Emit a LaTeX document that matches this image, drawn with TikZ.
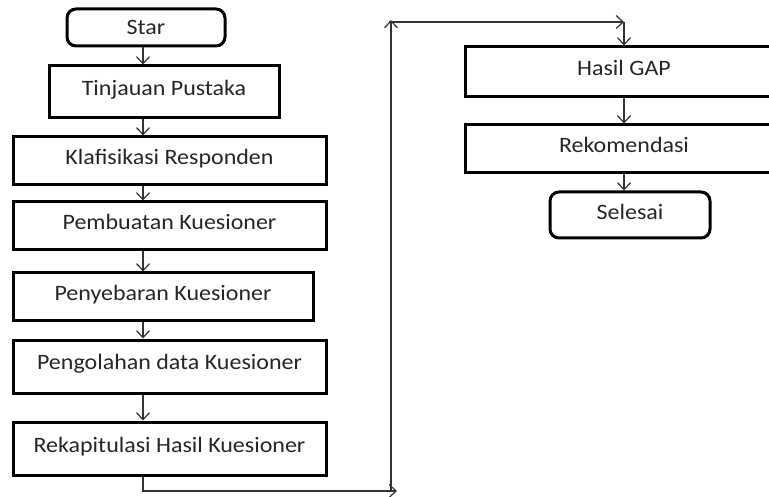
\documentclass[tikz,border=0pt]{standalone}
\usepackage{fontspec}
\setmainfont{Carlito}[FakeStretch=1.09]
\usepackage{tikz}
\usetikzlibrary{arrows.meta}

\begin{document}
\begin{tikzpicture}[x=1pt, y=1pt, >={Straight Barb[length=7pt, width=13pt, line width=1.2pt]},
    box/.style={draw, line width=3pt, inner sep=0pt, text height=15pt, text depth=8pt,
        font=\fontsize{22}{26}\selectfont, text=black!85},
    roundbox/.style={box, rounded corners=9pt},
    flow/.style={->, line width=1.2pt, black!80}]
    \useasboundingbox (0,0) rectangle (769,-497);

    % Left column
    \node (star) at (146,-27.5) [roundbox, text depth=1pt, minimum width=158pt, minimum height=37pt] {Star};
    \node (tinjau) at (164,-92) [box, minimum width=230pt, minimum height=52pt] {Tinjauan Pustaka};
    \node (klasif) at (169.5,-161) [box, minimum width=313pt, minimum height=48pt] {Klafisikasi Responden};
    \node (buat) at (169.5,-226) [box, minimum width=313pt, minimum height=48pt] {Pembuatan Kuesioner};
    \node (sebar) at (163,-297) [box, minimum width=300pt, minimum height=48pt] {Penyebaran Kuesioner};
    \node (olah) at (169.5,-366.5) [box, minimum width=313pt, minimum height=53pt] {Pengolahan data Kuesioner};
    \node (rekap) at (169.5,-448.5) [box, minimum width=313pt, minimum height=53pt] {Rekapitulasi Hasil Kuesioner};

    % Right column
    \node (gap) at (624,-72) [box, minimum width=318pt, minimum height=50pt] {Hasil GAP};
    \node (rekom) at (624,-149) [box, minimum width=318pt, minimum height=48pt] {Rekomendasi};
    \node (selesai) at (630,-215) [roundbox, text depth=6pt, minimum width=160pt, minimum height=46pt] {Selesai};

    % Arrows down the left column
    \coordinate (col) at (143,0);
    \foreach \from/\to in {star/tinjau, tinjau/klasif, klasif/buat, buat/sebar, sebar/olah, olah/rekap}
        \draw[flow] (\from.south -| col) -- (\to.north -| col);

    % Link to the right column
    \coordinate (lowL) at (143,-491);
    \coordinate (lowR) at (397,-491);
    \coordinate (riseB) at (391,-491);
    \coordinate (riseT) at (391,-20);
    \coordinate (topL) at (389,-22);
    \coordinate (topR) at (624,-22);
    \draw[flow] (rekap.south -| col) -- (lowL) -- (lowR);
    \draw[flow] (riseB) -- (riseT);
    \draw[flow] (topL) -- (topR);
    \draw[flow] (topR) -- (gap.north);

    % Arrows down the right column
    \draw[flow] (gap) -- (rekom);
    \draw[flow] (rekom.south) -- (selesai.north -| rekom);
\end{tikzpicture}
\end{document}
